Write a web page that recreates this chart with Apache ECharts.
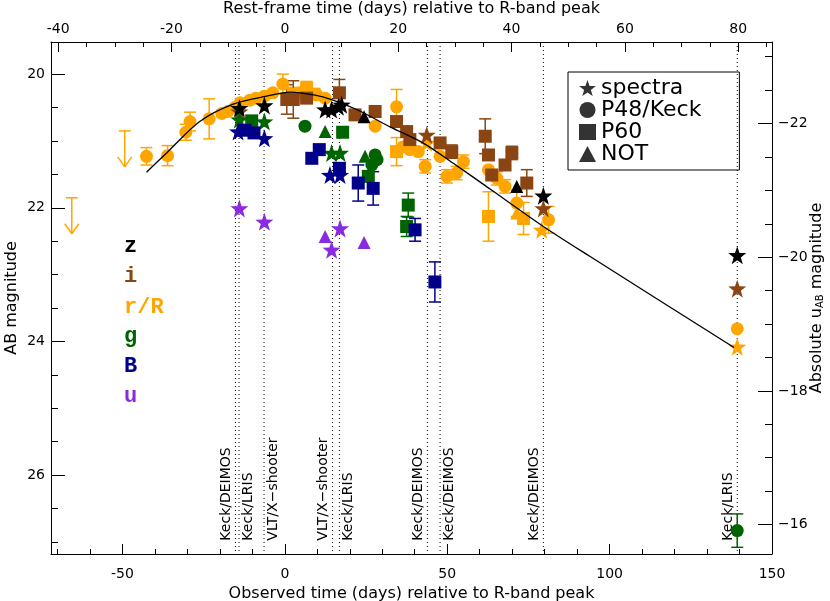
<!DOCTYPE html>
<html>
<head>
<meta charset="utf-8">
<title>Light curve</title>
<script src="https://cdn.jsdelivr.net/npm/echarts@6.0.0/dist/echarts.min.js"></script>
<style>
  html, body { margin: 0; padding: 0; background: #fff; }
  #my-charts { width: 830px; height: 601px; }
</style>
</head>
<body>
<div id="my-charts"></div>
<script>
// [observed days, AB mag, error]  (error 0 = no bar)
let rCircle = [
  [-42.6, 21.23, 0.13], [-36.1, 21.22, 0.15], [-30.5, 20.87, 0.12], [-29.2, 20.71, 0.14], [-23.3, 20.67, 0.30],
  [-19.4, 20.59, 0.05], [-17.5, 20.56, 0], [-15.4, 20.50, 0], [-13.8, 20.43, 0], [-10.8, 20.39, 0],
  [-8.9, 20.36, 0], [-6.3, 20.33, 0], [-3.7, 20.28, 0], [-0.6, 20.15, 0.15], [4.7, 20.28, 0],
  [9.8, 20.31, 0], [12.4, 20.36, 0], [27.8, 20.78, 0], [34.4, 20.49, 0.26], [36.4, 21.09, 0],
  [38.5, 21.13, 0], [41.1, 21.16, 0], [43.2, 21.38, 0.1], [47.8, 21.23, 0], [49.9, 21.53, 0.1],
  [52.9, 21.48, 0.1], [55.0, 21.31, 0.1], [62.7, 21.43, 0], [65.3, 21.56, 0.1], [67.8, 21.68, 0.1],
  [71.4, 21.93, 0.2], [81.2, 22.18, 0.2], [139.3, 23.81, 0]
]
let rSquare = [[2.6, 20.30, 0.1], [6.7, 20.21, 0.1], [9.0, 20.30, 0], [34.4, 21.16, 0.21], [62.7, 22.13, 0.37], [73.5, 22.16, 0.24]]
let rTriangle = [[71.4, 22.08, 0]]
let rStar = [[43.7, 21.03, 0], [79.1, 22.33, 0], [139.3, 24.08, 0]]
// upper limits: [observed days, AB mag]
let rLimit = [[-65.6, 21.85], [-49.3, 20.85]]

let iSquare = [
  [0.6, 20.38, 0.22], [2.6, 20.38, 0.28], [6.7, 20.36, 0], [16.8, 20.28, 0.2], [21.6, 20.61, 0],
  [27.8, 20.56, 0], [34.4, 20.71, 0], [37.5, 20.86, 0], [38.5, 20.98, 0], [47.8, 21.03, 0],
  [51.4, 21.16, 0.1], [61.7, 20.93, 0.26], [62.7, 21.21, 0], [63.7, 21.51, 0], [67.8, 21.36, 0],
  [69.9, 21.18, 0.1], [74.5, 21.63, 0.2]
]
let iStar = [[-14.0, 20.56, 0], [43.7, 20.91, 0], [79.6, 22.01, 0], [139.3, 23.21, 0]]

let gStar = [[-14.0, 20.68, 0], [-6.3, 20.71, 0], [14.4, 21.18, 0], [17.0, 21.18, 0]]
let gSquare = [[-10.2, 20.70, 0], [17.8, 20.87, 0], [25.7, 21.53, 0], [38.0, 21.96, 0.18], [37.5, 22.28, 0.15]]
let gCircle = [[6.2, 20.78, 0], [27.8, 21.21, 0], [28.4, 21.28, 0], [26.8, 21.36, 0], [139.3, 26.83, 0.25]]
let gTriangle = [[12.4, 20.86, 0], [24.7, 21.23, 0]]

let bStar = [[-14.4, 20.86, 0], [-6.3, 20.96, 0], [13.9, 21.51, 0], [17.0, 21.51, 0]]
let bSquare = [
  [-12.3, 20.84, 0], [-9.5, 20.88, 0], [8.3, 21.26, 0], [10.6, 21.13, 0], [16.8, 21.41, 0],
  [22.6, 21.63, 0.27], [27.2, 21.71, 0.25], [40.1, 22.33, 0.17], [46.2, 23.11, 0.3]
]

let uStar = [[-14.0, 22.01, 0], [-6.3, 22.21, 0], [17.0, 22.31, 0], [14.4, 22.63, 0]]
let uTriangle = [[12.4, 22.43, 0], [24.4, 22.52, 0]]

let zStar = [[-14.0, 20.51, 0], [-6.3, 20.47, 0], [12.4, 20.53, 0], [14.4, 20.53, 0], [16.5, 20.49, 0], [17.5, 20.46, 0], [79.6, 21.82, 0], [139.3, 22.71, 0]]
let zTriangle = [[24.4, 20.64, 0], [71.4, 21.68, 0]]

// model curve
let fitDays = [-42.6, -36.4, -26.2, -15.9, -5.6, 1.6, 4.7, 11.7, 22.1, 32.4, 42.5, 52.9, 63.2, 79.6, 94.0, 138.3]
let fitMag = [21.47, 21.18, 20.71, 20.45, 20.33, 20.27, 20.28, 20.34, 20.53, 20.79, 21.03, 21.37, 21.72, 22.28, 22.73, 24.09]

// spectra epochs (observed days)
let specDays = [-15.2, -14.1, -6.4, 14.7, 16.8, 43.9, 47.8, 79.6, 139.3]
let specNames = ['Keck/DEIMOS', 'Keck/LRIS', 'VLT/X\u2212shooter', 'VLT/X\u2212shooter', 'Keck/LRIS', 'Keck/DEIMOS', 'Keck/DEIMOS', 'Keck/DEIMOS', 'Keck/LRIS']
let specSide = [-1, 1, 1, -1, 1, -1, 1, -1, -1]

// axis ticks
let obsMajor = [-50, 0, 50, 100, 150]
let obsMinor = [-70, -60, -40, -30, -20, -10, 10, 20, 30, 40, 60, 70, 80, 90, 110, 120, 130, 140]
let restMajor = [-40, -20, 0, 20, 40, 60, 80]
let restMinor = [-35, -30, -25, -15, -10, -5, 5, 10, 15, 25, 30, 35, 45, 50, 55, 65, 70, 75, 85]
let magMajor = [20, 22, 24, 26]
let magMinor = [20.5, 21, 21.5, 22.5, 23, 23.5, 24.5, 25, 25.5, 26.5, 27]
let absMajor = [-22, -20, -18, -16]
let absMinor = [-23, -22.5, -21.5, -21, -20.5, -19.5, -19, -18.5, -17.5, -17, -16.5]

let redshift = 0.745
let distMod = 42.74
let xMin = -72, xMax = 150
let yMin = 19.52, yMax = 27.18

let colors = { z: '#000000', i: '#8b4513', r: '#ffa500', g: '#006400', B: '#00008b', u: '#8a2be2' }
let STAR = 'path://M0,-10L2.35,-3.24L9.51,-3.09L3.8,1.24L5.88,8.09L0,4L-5.88,8.09L-3.8,1.24L-9.51,-3.09L-2.35,-3.24Z'
let FONT = 'DejaVu Sans'

function errBars(color, data) {
  return {
    type: 'custom',
    silent: true,
    data: data.filter(d => d[2] > 0),
    encode: { x: 0, y: 1 },
    renderItem: function (params, api) {
      let x = api.value(0), m = api.value(1), e = api.value(2)
      let p1 = api.coord([x, m - e])
      let p2 = api.coord([x, m + e])
      let w = 6
      let style = { stroke: color, lineWidth: 1.5, fill: null }
      return {
        type: 'group',
        children: [
          { type: 'line', shape: { x1: p1[0], y1: p1[1], x2: p2[0], y2: p2[1] }, style: style },
          { type: 'line', shape: { x1: p1[0] - w, y1: p1[1], x2: p1[0] + w, y2: p1[1] }, style: style },
          { type: 'line', shape: { x1: p2[0] - w, y1: p2[1], x2: p2[0] + w, y2: p2[1] }, style: style }
        ]
      }
    }
  }
}

function points(name, data, symbol, size, color) {
  return {
    name: name,
    type: 'scatter',
    silent: true,
    data: data.map(d => [d[0], d[1]]),
    symbol: symbol,
    symbolSize: size,
    itemStyle: { color: color, opacity: 1 }
  }
}

function band(key, sets) {
  let all = []
  sets.forEach(s => { all = all.concat(s[1]) })
  let out = [errBars(colors[key], all)]
  sets.forEach(s => {
    let sym = s[0]
    let size = sym === STAR ? 18 : 13
    out.push(points(key + ' ' + sym, s[1], sym, size, colors[key]))
  })
  return out
}

let series = []
series = series.concat(band('r', [['circle', rCircle], ['rect', rSquare], ['triangle', rTriangle], [STAR, rStar]]))
series = series.concat(band('i', [['rect', iSquare], [STAR, iStar]]))
series = series.concat(band('g', [['circle', gCircle], ['rect', gSquare], ['triangle', gTriangle], [STAR, gStar]]))
series = series.concat(band('B', [['rect', bSquare], [STAR, bStar]]))
series = series.concat(band('u', [['triangle', uTriangle], [STAR, uStar]]))
series = series.concat(band('z', [['triangle', zTriangle], [STAR, zStar]]))

// upper limit arrows
series.push({
  type: 'custom',
  silent: true,
  data: rLimit,
  encode: { x: 0, y: 1 },
  renderItem: function (params, api) {
    let p = api.coord([api.value(0), api.value(1)])
    let len = 36
    let style = { stroke: colors.r, lineWidth: 1.5, fill: null }
    return {
      type: 'group',
      children: [
        { type: 'line', shape: { x1: p[0] - 6, y1: p[1], x2: p[0] + 6, y2: p[1] }, style: style },
        { type: 'line', shape: { x1: p[0], y1: p[1], x2: p[0], y2: p[1] + len }, style: style },
        { type: 'line', shape: { x1: p[0] - 7, y1: p[1] + len - 10, x2: p[0], y2: p[1] + len }, style: style },
        { type: 'line', shape: { x1: p[0] + 7, y1: p[1] + len - 10, x2: p[0], y2: p[1] + len }, style: style }
      ]
    }
  }
})

// model curve
series.push({
  type: 'line',
  silent: true,
  data: fitDays.map((d, k) => [d, fitMag[k]]),
  showSymbol: false,
  smooth: 0.3,
  lineStyle: { color: '#000', width: 1.3 },
  z: 3
})

// spectra epochs with instrument labels
series.push({
  type: 'custom',
  silent: true,
  data: specDays.map((d, k) => [d, k]),
  encode: { x: 0 },
  renderItem: function (params, api) {
    let k = api.value(1)
    let top = api.coord([api.value(0), yMin])
    let bot = api.coord([api.value(0), yMax])
    let anchor = api.coord([api.value(0), 26.98])
    return {
      type: 'group',
      children: [
        { type: 'line', shape: { x1: top[0], y1: top[1], x2: bot[0], y2: bot[1] }, style: { stroke: '#000', lineWidth: 1, lineDash: [1, 3] } },
        {
          type: 'text', x: anchor[0] + specSide[k] * 9, y: anchor[1], rotation: Math.PI / 2,
          style: { text: specNames[k], fill: '#000', font: '14px "' + FONT + '"', align: 'left', verticalAlign: 'middle' }
        }
      ]
    }
  },
  z: 1
})

// legend entries (black symbols)
let legendItems = [['spectra', STAR, 17], ['P48/Keck', 'circle', 14], ['P60', 'rect', 14], ['NOT', 'triangle', 14]]
legendItems.forEach(l => {
  series.push({ name: l[0], type: 'scatter', data: [], symbol: l[1], symbolSize: l[2], itemStyle: { color: '#000' } })
})

let axisText = { color: '#000', fontSize: 14, fontFamily: FONT }
let nameText = { color: '#000', fontSize: 16, fontFamily: FONT }
let black = { color: '#000', width: 1 }

function minorAxis(position, min, max, ticks, len, inverse) {
  return {
    type: 'value', position: position, min: min, max: max, inverse: !!inverse,
    axisLine: { show: false, onZero: false },
    axisTick: { show: true, inside: true, length: len, customValues: ticks, lineStyle: black },
    axisLabel: { show: false },
    splitLine: { show: false }
  }
}

let option = {
  animation: false,
  backgroundColor: '#fff',
  grid: { left: 51, right: 58, top: 42, bottom: 47, containLabel: false, outerBoundsMode: 'none' },
  legend: {
    data: legendItems.map(l => l[0]),
    orient: 'vertical',
    left: 568,
    top: 72,
    itemWidth: 17,
    itemHeight: 16,
    itemGap: 0,
    padding: [5, 38, 5, 11],
    borderColor: '#000',
    borderWidth: 1,
    selectedMode: false,
    textStyle: { color: '#000', fontSize: 22, lineHeight: 22, fontFamily: FONT }
  },
  xAxis: [
    {
      type: 'value', position: 'bottom', min: xMin, max: xMax,
      axisLine: { show: true, onZero: false, lineStyle: black },
      axisTick: { inside: true, length: 10, customValues: obsMajor, lineStyle: black },
      axisLabel: { customValues: obsMajor, margin: 13, ...axisText },
      splitLine: { show: false },
      name: 'Observed time (days) relative to R-band peak',
      nameLocation: 'middle', nameGap: 30, nameTextStyle: nameText
    },
    minorAxis('bottom', xMin, xMax, obsMinor, 5),
    {
      type: 'value', position: 'top', min: xMin / (1 + redshift), max: xMax / (1 + redshift),
      axisLine: { show: true, onZero: false, lineStyle: black },
      axisTick: { inside: true, length: 10, customValues: restMajor, lineStyle: black },
      axisLabel: { customValues: restMajor, margin: 6, ...axisText },
      splitLine: { show: false },
      name: 'Rest-frame time (days) relative to R-band peak',
      nameLocation: 'middle', nameGap: 22, nameTextStyle: nameText
    },
    minorAxis('top', xMin / (1 + redshift), xMax / (1 + redshift), restMinor, 5)
  ],
  yAxis: [
    {
      type: 'value', position: 'left', min: yMin, max: yMax, inverse: true,
      axisLine: { show: true, onZero: false, lineStyle: black },
      axisTick: { inside: true, length: 14, customValues: magMajor, lineStyle: black },
      axisLabel: { customValues: magMajor, margin: 6, ...axisText },
      splitLine: { show: false },
      name: 'AB magnitude', nameLocation: 'middle', nameGap: 31, nameRotate: 90, nameMoveOverlap: false,
      nameTextStyle: nameText
    },
    minorAxis('left', yMin, yMax, magMinor, 7, true),
    {
      type: 'value', position: 'right', min: yMin - distMod, max: yMax - distMod, inverse: true,
      axisLine: { show: true, onZero: false, lineStyle: black },
      axisTick: { inside: true, length: 14, customValues: absMajor, lineStyle: black },
      axisLabel: { customValues: absMajor, margin: 6, formatter: v => '\u2212' + Math.abs(v), ...axisText },
      splitLine: { show: false },
      name: 'Absolute u{sub|AB} magnitude', nameLocation: 'middle', nameGap: 37, nameRotate: 90, nameMoveOverlap: false,
      nameTextStyle: { ...nameText, rich: { sub: { fontSize: 10, fontFamily: FONT, color: '#000', verticalAlign: 'bottom', padding: [6, 0, 0, 0] } } }
    },
    minorAxis('right', yMin - distMod, yMax - distMod, absMinor, 7, true)
  ],
  graphic: [
    ['z', colors.z, 246], ['i', colors.i, 276], ['r/R', colors.r, 307],
    ['g', colors.g, 336], ['B', colors.B, 366], ['u', colors.u, 396]
  ].map(b => ({
    type: 'text', x: 124, y: b[2],
    style: { text: b[0], fill: b[1], font: 'bold 22px "Liberation Mono"', verticalAlign: 'middle' }
  })),
  series: series
}

let chartDom = document.getElementById('my-charts')
let myChart = echarts.init(chartDom)
myChart.setOption(option)
</script>
</body>
</html>
